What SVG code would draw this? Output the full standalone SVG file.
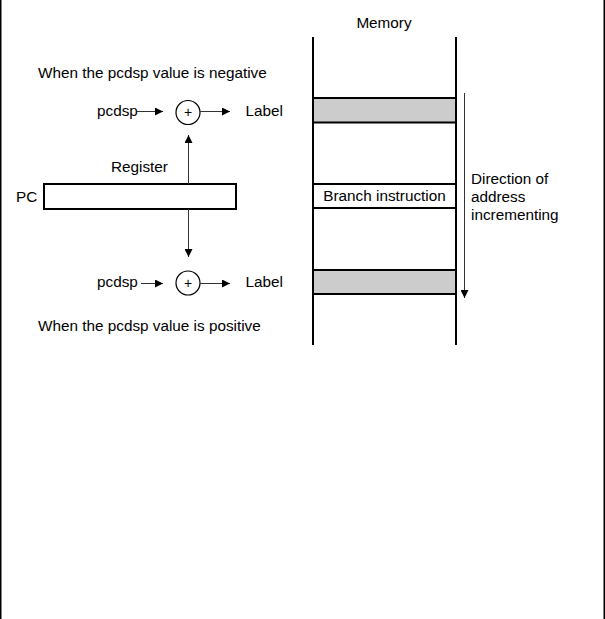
<svg xmlns="http://www.w3.org/2000/svg" width="605" height="619" viewBox="0 0 605 619">
<defs>
<style>
text{font-family:"Liberation Sans",Arial,sans-serif;font-size:15.3px;fill:#000}
.plus{font-size:14px;text-anchor:middle}
.thin{stroke:#333;stroke-width:1;fill:none}
.thick{stroke:#000;stroke-width:2;fill:none}
.gray{fill:#cccccc;stroke:#000;stroke-width:2}
.white{fill:#fff;stroke:#000;stroke-width:2}
.circ{fill:#fff;stroke:#000;stroke-width:1.2}
</style>
<marker id="ah" viewBox="0 0 10 10" refX="10" refY="5" markerWidth="10" markerHeight="8" markerUnits="userSpaceOnUse" orient="auto">
<path d="M0,0 L10,5 L0,10 z" fill="#000"/>
</marker>
</defs>
<rect width="605" height="619" fill="#fff"/>
<g id="frame">
<line x1="0.75" y1="0" x2="0.75" y2="619" stroke="#000" stroke-width="1.5"/>
<line x1="604.25" y1="0" x2="604.25" y2="619" stroke="#000" stroke-width="1.5"/>
</g>
<g id="memory">
<text x="384" y="28" text-anchor="middle">Memory</text>
<line class="thick" x1="313" y1="37" x2="313" y2="345"/>
<line class="thick" x1="456" y1="37" x2="456" y2="345"/>
</g>
<g id="mem-top"><rect class="gray" x="313" y="98" width="143" height="24.5"/></g>
<g id="mem-branch"><rect class="white" x="313" y="184" width="143" height="24"/>
<text x="384.5" y="201" text-anchor="middle">Branch instruction</text></g>
<g id="mem-bottom"><rect class="gray" x="313" y="270" width="143" height="24"/></g>
<g id="direction">
<text x="471" y="184">Direction of</text>
<text x="471" y="202">address</text>
<text x="471" y="220">incrementing</text>
</g>
<g id="pc"><text x="16" y="202">PC</text><rect class="white" x="44" y="184" width="192" height="25"/></g>
<g id="register"><text x="111" y="172">Register</text></g>
<g id="neg-caption"><text x="38" y="78">When the pcdsp value is negative</text></g>
<g id="pos-caption"><text x="38" y="331">When the pcdsp value is positive</text></g>
<g id="neg-pcdsp"><text x="97" y="116">pcdsp</text></g>
<g id="neg-adder"><circle class="circ" cx="188" cy="112.5" r="12"/><text class="plus" x="188" y="117">+</text></g>
<g id="neg-label"><text x="245.5" y="116">Label</text></g>
<g id="pos-pcdsp"><text x="97" y="287">pcdsp</text></g>
<g id="pos-adder"><circle class="circ" cx="188" cy="283" r="12"/><text class="plus" x="188" y="287.5">+</text></g>
<g id="pos-label"><text x="245.5" y="287">Label</text></g>
<g id="connectors">
<line class="thin" x1="137" y1="111.5" x2="163" y2="111.5" marker-end="url(#ah)"/>
<line class="thin" x1="200" y1="111.5" x2="230" y2="111.5" marker-end="url(#ah)"/>
<line class="thin" x1="188.5" y1="184" x2="188.5" y2="135" marker-end="url(#ah)"/>
<line class="thin" x1="188.5" y1="209" x2="188.5" y2="257" marker-end="url(#ah)"/>
<line class="thin" x1="141" y1="283.5" x2="163" y2="283.5" marker-end="url(#ah)"/>
<line class="thin" x1="200" y1="283.5" x2="230" y2="283.5" marker-end="url(#ah)"/>
<line class="thin" x1="464.5" y1="93" x2="464.5" y2="298" marker-end="url(#ah)"/>
</g>
</svg>
